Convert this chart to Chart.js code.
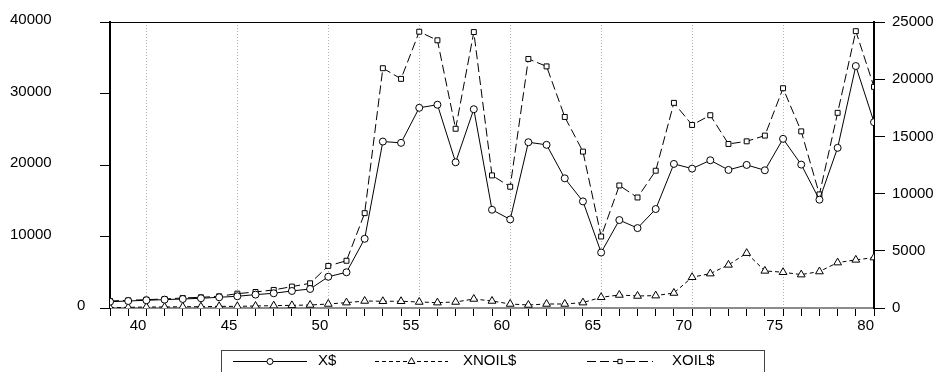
<!DOCTYPE html>
<html>
<head>
<meta charset="utf-8">
<script src="https://cdn.jsdelivr.net/npm/chart.js@4.4.1/dist/chart.umd.min.js"></script>
<style>
  html, body { margin: 0; padding: 0; background: #fff; }
  #wrap { width: 939px; height: 372px; }
</style>
</head>
<body>
<div id="wrap"><canvas id="exportsChart" width="939" height="372"></canvas></div>
<script>
const years = [38, 39, 40, 41, 42, 43, 44, 45, 46, 47, 48, 49, 50, 51, 52, 53, 54, 55, 56, 57, 58,
  59, 60, 61, 62, 63, 64, 65, 66, 67, 68, 69, 70, 71, 72, 73, 74, 75, 76, 77, 78, 79, 80];

// left axis
const xTotal = [880, 980, 1080, 1170, 1260, 1360, 1500, 1640, 1870, 2060, 2380, 2660, 4370, 5000,
  9680, 23280, 23100, 28000, 28430, 20380, 27800, 13745, 12385, 23185, 22820, 18135, 14910, 7760,
  12300, 11175, 13840, 20150, 19495, 20660, 19310, 20010, 19260, 23660, 20055, 15150, 22400, 33840, 25990];
const xNonOil = [40, 90, 140, 140, 180, 180, 230, 230, 280, 330, 370, 420, 560, 750, 980, 940, 940,
  840, 750, 840, 1260, 980, 560, 420, 560, 560, 750, 1500, 1820, 1680, 1730, 2100, 4300, 4810, 6030,
  7670, 5190, 5000, 4670, 5100, 6350, 6730, 7050];
// right axis
const xOil = [613, 670, 730, 790, 875, 935, 1020, 1255, 1400, 1580, 1870, 2160, 3680, 4130, 8290,
  20960, 20030, 24150, 23400, 15670, 24120, 11590, 10600, 21770, 21120, 16700, 13670, 6250, 10710,
  9660, 12000, 17930, 16000, 16850, 14340, 14570, 15070, 19210, 15440, 9930, 17060, 24200, 19330];

const seriesNames = ["X$", "XNOIL$", "XOIL$"];
const leftTicks = [0, 10000, 20000, 30000, 40000];
const rightTicks = [0, 5000, 10000, 15000, 20000, 25000];

const FONT = "'Liberation Sans', Arial, sans-serif";

const toPoints = (vals) => vals.map((v, i) => ({ x: years[i], y: v }));

// left labels sit oddly in the original (0 is pushed right), so draw them by hand
const leftLabels = {
  id: "leftLabels",
  afterDraw(chart) {
    const scale = chart.scales.yLeft;
    const ctx = chart.ctx;
    ctx.save();
    ctx.font = `15px ${FONT}`;
    ctx.fillStyle = "#000";
    ctx.textBaseline = "middle";
    ctx.textAlign = "left";
    leftTicks.forEach((v) => {
      const y = scale.getPixelForValue(v) - 2;
      ctx.fillText(String(v), v === 0 ? 77 : 10, y);
    });
    ctx.restore();
  },
};

// top edge of the frame
const frameTop = {
  id: "frameTop",
  afterDatasetsDraw(chart) {
    const { ctx, chartArea } = chart;
    ctx.save();
    ctx.strokeStyle = "#000";
    ctx.lineWidth = 1;
    ctx.beginPath();
    ctx.moveTo(chartArea.left, chartArea.top + 0.5);
    ctx.lineTo(chartArea.right, chartArea.top + 0.5);
    ctx.stroke();
    ctx.restore();
  },
};

// boxed legend under the chart, line sample with marker in the middle
const boxLegend = {
  id: "boxLegend",
  afterDraw(chart) {
    const ctx = chart.ctx;
    ctx.save();
    ctx.strokeStyle = "#444";
    ctx.lineWidth = 1;
    ctx.strokeRect(221.5, 350.5, 543, 40);

    const rowY = 361;
    const items = [
      { x0: 233, x1: 307, tx: 318 },
      { x0: 375, x1: 448, tx: 463 },
      { x0: 587, x1: 653, tx: 672 },
    ];
    items.forEach((it, i) => {
      const ds = chart.data.datasets[i];
      ctx.strokeStyle = "#000";
      ctx.lineWidth = 1;
      ctx.setLineDash(ds.borderDash || []);
      ctx.beginPath();
      ctx.moveTo(it.x0, rowY + 0.5);
      ctx.lineTo(it.x1, rowY + 0.5);
      ctx.stroke();
      ctx.setLineDash([]);
      ctx.fillStyle = "#fff";
      Chart.helpers.drawPoint(ctx, {
        pointStyle: ds.pointStyle,
        radius: ds.pointRadius - 0.5,
        rotation: 0,
        borderWidth: 1,
      }, (it.x0 + it.x1) / 2, rowY + 0.5);
      ctx.fillStyle = "#000";
      ctx.font = `15px ${FONT}`;
      ctx.textAlign = "left";
      ctx.textBaseline = "middle";
      ctx.fillText(seriesNames[i], it.tx, rowY);
    });
    ctx.restore();
  },
};

function lineSet(label, data, axis, style, dash) {
  return {
    label,
    data: toPoints(data),
    yAxisID: axis,
    borderColor: "#000",
    borderWidth: 1,
    borderDash: dash,
    tension: 0,
    fill: false,
    pointStyle: style,
    pointRadius: style === "triangle" ? 4.5 : 3.5,
    pointBackgroundColor: "#fff",
    pointBorderColor: "#000",
    pointBorderWidth: 1,
  };
}

const ctx = document.getElementById("exportsChart").getContext("2d");
new Chart(ctx, {
  type: "line",
  data: {
    datasets: [
      lineSet(seriesNames[0], xTotal, "yLeft", "circle", []),
      lineSet(seriesNames[1], xNonOil, "yLeft", "triangle", [4, 3]),
      lineSet(seriesNames[2], xOil, "yRight", "rect", [9, 4]),
    ],
  },
  options: {
    responsive: false,
    animation: false,
    layout: { padding: { top: 22, left: 0, right: 0, bottom: 0 } },
    plugins: {
      legend: { display: false },
      tooltip: { enabled: false },
    },
    scales: {
      x: {
        type: "linear",
        min: 38,
        max: 80,
        afterFit: (s) => { s.height = 64; },
        afterBuildTicks: (s) => { s.ticks = years.map((v) => ({ value: v })); },
        ticks: {
          autoSkip: false,
          maxRotation: 0,
          align: "end",
          padding: 1,
          color: "#000",
          font: { family: FONT, size: 15 },
          callback: (v) => (v % 5 === 0 ? String(v) : ""),
        },
        grid: {
          color: (c) => {
            const v = c.tick && c.tick.value;
            return v % 5 === 0 && v > 38 && v < 80 ? "#b0b0b0" : "rgba(0,0,0,0)";
          },
          lineWidth: 1,
          tickColor: "#000",
          tickLength: 8,
        },
        border: { display: true, color: "#8c8c8c", width: 2, dash: [1, 2] },
      },
      yLeft: {
        type: "linear",
        position: "left",
        min: 0,
        max: 40000,
        afterFit: (s) => { s.width = 110; },
        afterBuildTicks: (s) => { s.ticks = leftTicks.map((v) => ({ value: v })); },
        ticks: { display: false },
        grid: { drawOnChartArea: false, tickColor: "#000", tickLength: 10 },
        border: { display: true, color: "#000", width: 2 },
      },
      yRight: {
        type: "linear",
        position: "right",
        min: 0,
        max: 25000,
        afterFit: (s) => { s.width = 65; },
        afterBuildTicks: (s) => { s.ticks = rightTicks.map((v) => ({ value: v })); },
        ticks: {
          padding: 7,
          color: "#000",
          font: { family: FONT, size: 15 },
          callback: (v) => String(v),
        },
        grid: { drawOnChartArea: false, tickColor: "#000", tickLength: 11 },
        border: { display: true, color: "#000", width: 2 },
      },
    },
  },
  plugins: [frameTop, leftLabels, boxLegend],
});
</script>
</body>
</html>
